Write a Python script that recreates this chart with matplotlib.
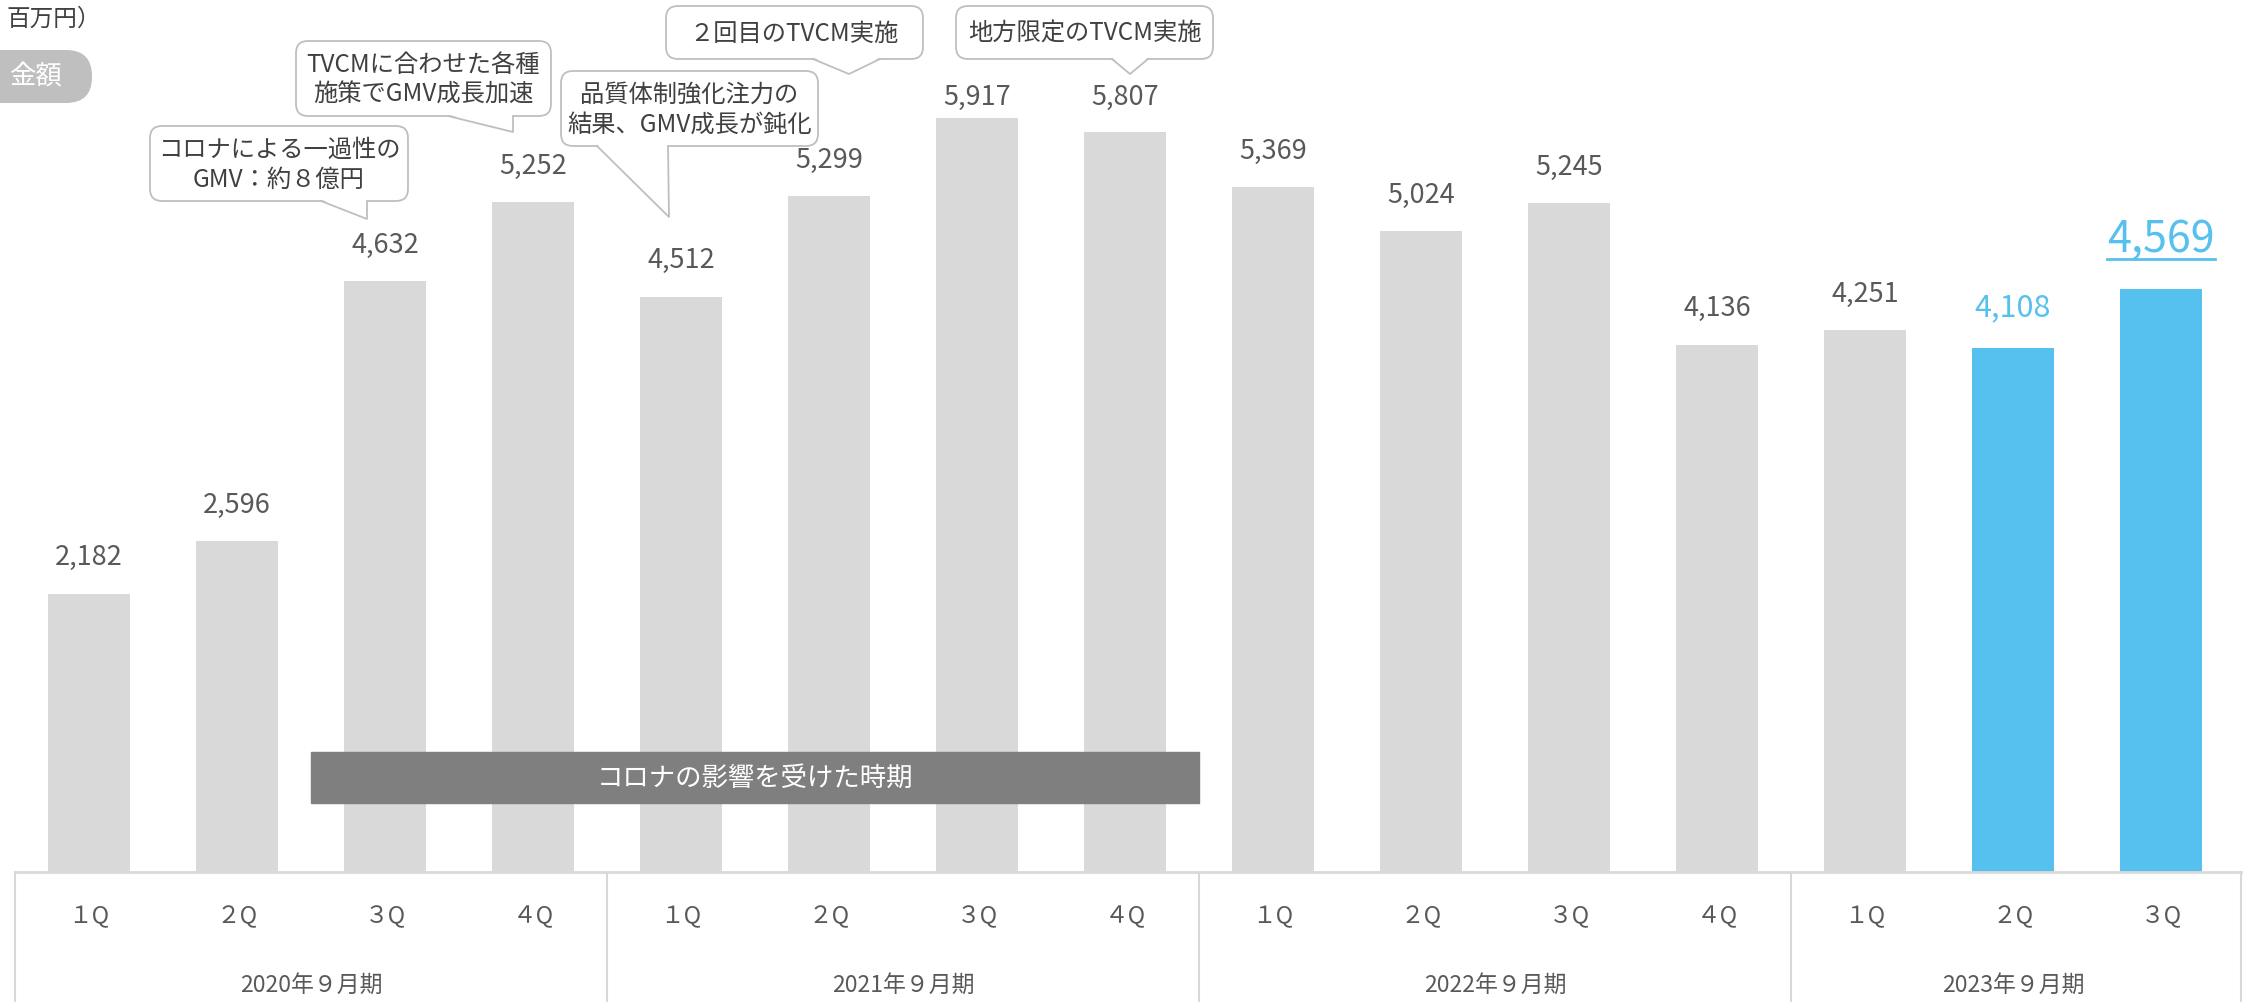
import numpy as np
import matplotlib.pyplot as plt
from matplotlib.patches import FancyBboxPatch, Polygon, Rectangle

plt.rcParams['font.family'] = ['Noto Sans CJK JP', 'DejaVu Sans']

# data
years = ["2020年９月期", "2021年９月期", "2022年９月期", "2023年９月期"]
quarters_per_year = [4, 4, 4, 3]
quarters = ["１Q", "２Q", "３Q", "４Q",
            "１Q", "２Q", "３Q", "４Q",
            "１Q", "２Q", "３Q", "４Q",
            "１Q", "２Q", "３Q"]
gmv = [2182, 2596, 4632, 5252,
       4512, 5299, 5917, 5807,
       5369, 5024, 5245, 4136,
       4251, 4108, 4569]
highlight = [False] * 13 + [True, True]

callouts = [
    "コロナによる一過性の\nGMV：約８億円",
    "TVCMに合わせた各種\n施策でGMV成長加速",
    "品質体制強化注力の\n結果、GMV成長が鈍化",
    "２回目のTVCM実施",
    "地方限定のTVCM実施",
]
band_text = "コロナの影響を受けた時期"

GRAY = "#d9d9d9"
BLUE = "#56c1ee"
TXT = "#595959"

W, H = 2244, 1003
X0, STEP = 89, 148          # px of first bar centre, px per bar
BASE, PPU = 873, 0.1275     # baseline px, px per unit

fig = plt.figure(figsize=(W / 100, H / 100), dpi=100)
ax = fig.add_axes([0, 0, 1, 1])
ax.set_xlim(-X0 / STEP, (W - X0) / STEP)
ax.set_ylim((BASE - H) / PPU, BASE / PPU)
ax.axis("off")

x = np.arange(len(gmv))
colors = [BLUE if h else GRAY for h in highlight]
ax.bar(x, gmv, width=0.55, color=colors, zorder=2)

# value labels (kept inside the plot area at the top)
label_top = (BASE - 97) / PPU
for i, v in enumerate(gmv):
    if i == len(gmv) - 1:
        last_lab = ax.text(i, v + 51 / PPU, f"{v:,}", ha="center", va="center",
                           fontsize=31, color=BLUE)
    elif highlight[i]:
        ax.text(i, v + 41 / PPU, f"{v:,}", ha="center", va="center",
                fontsize=22, color=BLUE)
    else:
        ax.text(i, min(v + 37 / PPU, label_top), f"{v:,}", ha="center", va="center",
                fontsize=19.5, color=TXT)

# category table below bars
ybot = ax.get_ylim()[0]
right = len(gmv) - 0.46
ax.plot([-0.5, right], [0, 0], color=GRAY, lw=2, zorder=3)
edges = np.concatenate([[-0.5], np.cumsum(quarters_per_year) - 0.5])
edges[-1] = right
for e in edges:
    ax.plot([e, e], [0, ybot], color=GRAY, lw=1.5, zorder=3)
for i, q in enumerate(quarters):
    ax.text(i, -345, q, ha="center", va="center", fontsize=17, color=TXT)
for k, y in enumerate(years):
    start = sum(quarters_per_year[:k])
    cx = start + (quarters_per_year[k] - 1) / 2
    ax.text(cx, -878, y, ha="center", va="center", fontsize=16.5, color=TXT)

# corona band
ax.add_patch(Rectangle((1.5, 541), 6, 400, color="#7f7f7f", zorder=4))
ax.text(4.5, 741, band_text, ha="center", va="center", fontsize=19, color="white", zorder=5)

# overlay in pixel coords for callouts and header
ov = fig.add_axes([0, 0, 1, 1])
ov.set_xlim(0, W)
ov.set_ylim(H, 0)
ov.axis("off")
ov.patch.set_alpha(0)

boxes = [(150, 127, 408, 202), (296, 42, 551, 117), (561, 72, 818, 147),
         (666, 7, 923, 60), (956, 7, 1213, 60)]
tails = [((321, 367), (367, 220)), ((448, 513), (513, 133)), ((597, 668), (669, 218)),
         ((813, 880), (849, 75)), ((1112, 1148), (1130, 75))]
for text, (x0, y0, x1, y1), ((b0, b1), tip) in zip(callouts, boxes, tails):
    ov.add_patch(FancyBboxPatch((x0, y0), x1 - x0, y1 - y0,
                                boxstyle="round,pad=0,rounding_size=12",
                                fc="white", ec="#bfbfbf", lw=1.3, zorder=5))
    ov.add_patch(Polygon([(b0, y1 - 1.5), tip, (b1, y1 - 1.5)], closed=True,
                         fc="white", ec="none", zorder=6))
    ov.plot([b0, tip[0], b1], [y1, tip[1], y1], color="#bfbfbf", lw=1.3, zorder=6)
    ov.text((x0 + x1) / 2, (y0 + y1) / 2, text, ha="center", va="center",
            fontsize=17.5, color="#404040", linespacing=1.2, zorder=7)

# header
ov.text(6, 19, "百万円）", ha="left", va="center", fontsize=17, color="#404040")
ov.add_patch(FancyBboxPatch((-80, 51), 172, 53, boxstyle="round,pad=0,rounding_size=26",
                            fc="#bfbfbf", ec="none", zorder=5))
ov.text(35, 77, "金額", ha="center", va="center", fontsize=19, color="white", zorder=6)

# underline for latest value
fig.canvas.draw()
bb = last_lab.get_window_extent()
ov.plot([bb.x0, bb.x1], [260, 260], color=BLUE, lw=2)

fig.savefig("out.png", dpi=100)
